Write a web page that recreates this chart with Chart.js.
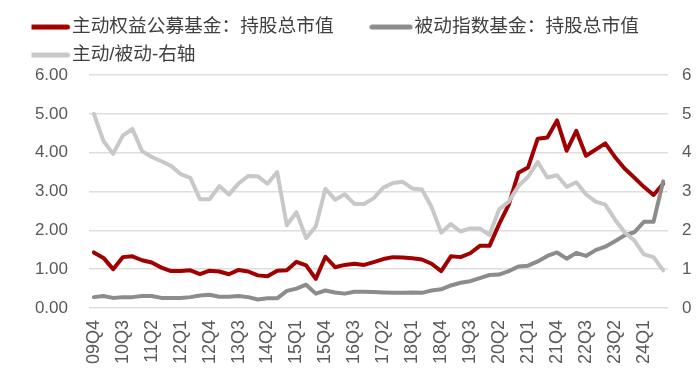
<!DOCTYPE html>
<html>
<head>
<meta charset="utf-8">
<script src="https://cdn.jsdelivr.net/npm/chart.js@4.4.1/dist/chart.umd.min.js"></script>
<style>
html,body{margin:0;padding:0;background:#fff;}
#wrap{width:700px;height:382px;position:relative;}
</style>
</head>
<body>
<div id="wrap"><canvas id="c" width="700" height="382"></canvas></div>
<script>
const quarters = ['09Q4','10Q1','10Q2','10Q3','10Q4','11Q1','11Q2','11Q3','11Q4','12Q1','12Q2','12Q3','12Q4','13Q1','13Q2','13Q3','13Q4','14Q1','14Q2','14Q3','14Q4','15Q1','15Q2','15Q3','15Q4','16Q1','16Q2','16Q3','16Q4','17Q1','17Q2','17Q3','17Q4','18Q1','18Q2','18Q3','18Q4','19Q1','19Q2','19Q3','19Q4','20Q1','20Q2','20Q3','20Q4','21Q1','21Q2','21Q3','21Q4','22Q1','22Q2','22Q3','22Q4','23Q1','23Q2','23Q3','23Q4','24Q1','24Q2','24Q3'];

const activeFunds = [1.43,1.29,1.00,1.31,1.33,1.23,1.17,1.04,0.95,0.95,0.97,0.87,0.96,0.94,0.87,0.98,0.94,0.84,0.82,0.96,0.97,1.19,1.10,0.75,1.32,1.05,1.11,1.14,1.11,1.18,1.26,1.31,1.30,1.28,1.25,1.14,0.95,1.33,1.31,1.41,1.60,1.60,2.16,2.66,3.48,3.62,4.36,4.39,4.83,4.05,4.56,3.92,4.08,4.24,3.89,3.59,3.36,3.12,2.91,3.20];

const passiveFunds = [0.28,0.31,0.26,0.28,0.28,0.31,0.31,0.26,0.26,0.26,0.28,0.32,0.34,0.29,0.29,0.31,0.28,0.22,0.25,0.25,0.44,0.50,0.60,0.37,0.45,0.40,0.37,0.42,0.42,0.41,0.40,0.39,0.39,0.40,0.39,0.45,0.48,0.58,0.65,0.69,0.77,0.85,0.86,0.95,1.07,1.09,1.20,1.34,1.43,1.27,1.42,1.34,1.49,1.58,1.72,1.87,1.95,2.22,2.22,3.26];

const activePassiveRatio = [5.00,4.30,3.97,4.44,4.61,4.04,3.89,3.78,3.66,3.45,3.35,2.80,2.80,3.14,2.92,3.21,3.40,3.39,3.20,3.50,2.13,2.47,1.80,2.10,3.07,2.79,2.93,2.68,2.68,2.83,3.10,3.22,3.25,3.08,3.05,2.60,1.94,2.16,1.97,2.05,2.05,1.88,2.54,2.74,3.14,3.38,3.76,3.36,3.42,3.12,3.24,2.93,2.74,2.66,2.28,1.95,1.74,1.38,1.31,0.97];

const seriesNames = ['主动权益公募基金：持股总市值','被动指数基金：持股总市值','主动/被动-右轴'];
const leftTicks = ['0.00','1.00','2.00','3.00','4.00','5.00','6.00'];
const rightTicks = ['0','1','2','3','4','5','6'];

const COLORS = ['#A00000','#8C8C8C','#C8C8C8'];
const tickFont = {family:'"Liberation Sans", Arial, sans-serif', size:17};

// legend swatches: rounded line images
function swatch(color){
  const cv = document.createElement('canvas');
  cv.width = 50; cv.height = 8;
  const g = cv.getContext('2d');
  g.strokeStyle = color; g.lineWidth = 5; g.lineCap = 'round';
  g.beginPath(); g.moveTo(2.8, 4); g.lineTo(40.8, 4); g.stroke();
  return cv;
}
const SWATCHES = COLORS.map(swatch);
const BLANK = (() => { const c = document.createElement('canvas'); c.width = 1; c.height = 1; return c; })();

const legendHeightPlugin = {
  id:'legendHeight',
  beforeInit(chart){
    const lg = chart.legend;
    const orig = lg.fit;
    lg.fit = function(){ orig.call(this); this.height = 66.6; };
  }
};

const mk = (i, data, axis, order) => ({
  label: seriesNames[i], data, yAxisID: axis, order,
  borderColor: COLORS[i], backgroundColor: COLORS[i],
  borderWidth: 4, pointRadius: 0, tension: 0,
  borderJoinStyle: 'round', borderCapStyle: 'round', fill: false
});

new Chart(document.getElementById('c'), {
  type: 'line',
  data: {
    labels: quarters,
    datasets: [
      mk(0, activeFunds, 'y', 2),
      mk(1, passiveFunds, 'y', 1),
      mk(2, activePassiveRatio, 'y1', 0)
    ]
  },
  options: {
    responsive: false,
    animation: false,
    devicePixelRatio: 1,
    layout: {padding: {left: 31.5, right: 0, top: 8.4, bottom: 0}},
    plugins: {
      tooltip: {enabled: false},
      legend: {
        position: 'top', align: 'start',
        labels: {
          usePointStyle: true, pointStyleWidth: 21.85, boxHeight: 5, padding: 9.3,
          color: '#404040',
          font: {family: '"Liberation Sans", "Noto Sans CJK SC", sans-serif', size: 18.7},
          generateLabels(chart){
            const items = Chart.defaults.plugins.legend.labels.generateLabels(chart)
              .sort((a, b) => a.datasetIndex - b.datasetIndex);
            items.forEach(it => {
              it.lineWidth = 0;
              it.fillStyle = COLORS[it.datasetIndex];
              it.strokeStyle = COLORS[it.datasetIndex];
              it.pointStyle = SWATCHES[it.datasetIndex];
            });
            const spacer = {text: '', fillStyle: 'rgba(0,0,0,0)', strokeStyle: 'rgba(0,0,0,0)',
              lineWidth: 0, hidden: false, pointStyle: BLANK, datasetIndex: -1, fontColor: '#404040'};
            items.splice(1, 0, spacer);
            return items;
          }
        }
      }
    },
    scales: {
      x: {
        offset: true,
        grid: {display: false, drawTicks: false},
        border: {display: false},
        ticks: {
          autoSkip: false, minRotation: 90, maxRotation: 90, padding: 12,
          color: '#595959', font: {family: tickFont.family, size: 18},
          callback: (v, i) => (i % 3 === 0 ? quarters[i] : '')
        },
        afterFit: s => { s.height = 74; }
      },
      y: {
        position: 'left', min: 0, max: 6,
        grid: {color: '#DEDEDE', lineWidth: 1.5, drawTicks: false},
        border: {display: false},
        ticks: {stepSize: 1, padding: 21, color: '#595959', font: tickFont,
          callback: (v) => leftTicks[Math.round(v)]},
        afterFit: s => { s.width = 57.5; }
      },
      y1: {
        position: 'right', min: 0, max: 6,
        grid: {display: false, drawTicks: false},
        border: {display: false},
        ticks: {stepSize: 1, padding: 14, color: '#595959', font: tickFont,
          callback: (v) => rightTicks[Math.round(v)]},
        afterFit: s => { s.width = 32; }
      }
    }
  },
  plugins: [legendHeightPlugin]
});
</script>
</body>
</html>
